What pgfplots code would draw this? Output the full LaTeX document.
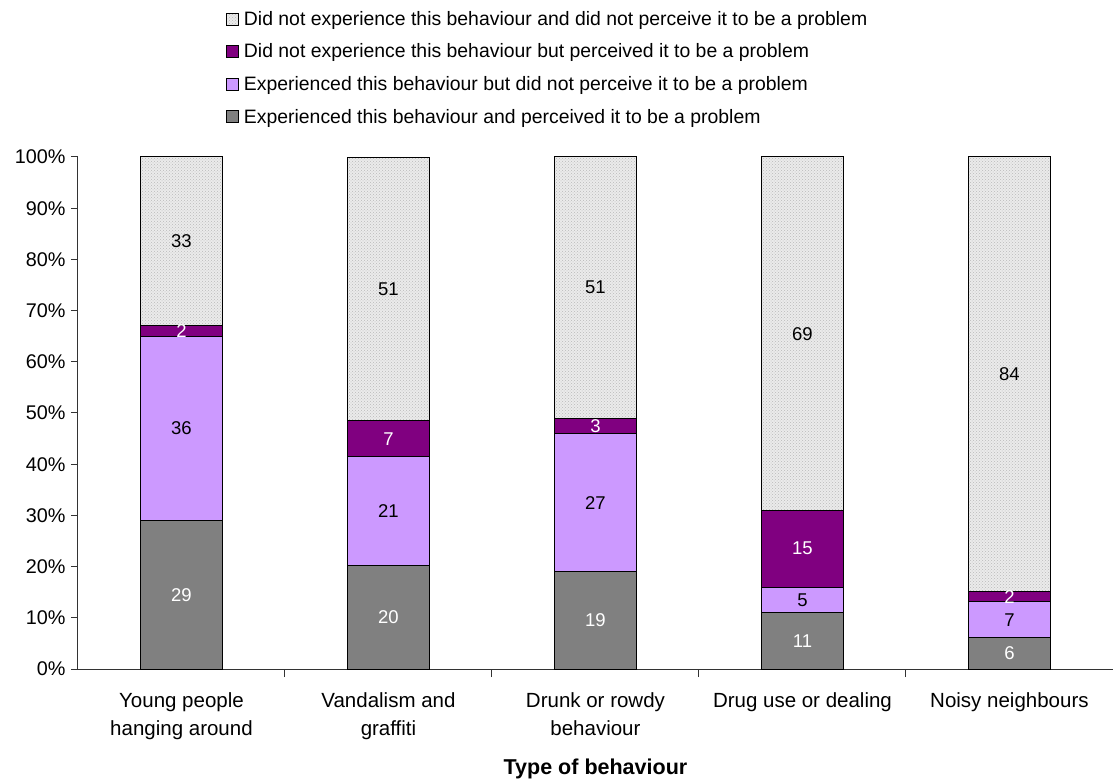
\documentclass[border=0pt]{standalone}
\usepackage{fontspec}
\setmainfont{Liberation Sans}
\usepackage{pgfplots}
\pgfplotsset{compat=1.18}
\usepackage{pgfplotstable}
\usetikzlibrary{patterns}

\definecolor{barGrey}{HTML}{808080}
\definecolor{barLilac}{HTML}{CC99FF}
\definecolor{barPurple}{HTML}{800080}
\definecolor{barLight}{HTML}{EBEBEB}

% a: experienced & problem, b: experienced & no problem,
% c: not experienced & problem, d: not experienced & no problem, t: row total
\pgfplotstableread{
x a  b  c  d  t
0 29 36 2  33 100
1 20 21 7  51 99
2 19 27 3  51 100
3 11 5  15 69 100
4 6  7  2  84 99
}\behaviour

\pgfplotsset{
  common/.style={
    width=1035pt, height=512pt, scale only axis,
    xmin=-0.5, xmax=4.5, ymin=0, ymax=100,
  },
  sq legend/.style={
    legend image code/.code={
      \draw[##1, draw=black, line width=0.8pt] (0pt,-6pt) rectangle (12pt,6pt);
    }
  },
  seg/.style={draw=black, line width=1pt, sq legend},
  lbl/.style={only marks, mark=none, nodes near coords,
    point meta=explicit symbolic,
    nodes near coords style={anchor=center, font=\fontsize{18.5}{20}\selectfont, text=#1}},
}

\begin{document}
\begin{tikzpicture}
\path[use as bounding box] (-78pt,-112pt) rectangle (1035pt,669pt);

\begin{axis}[
  common,
  ybar stacked, bar width=82pt,
  axis x line=bottom, axis y line=left,
  x axis line style={-}, y axis line style={-},
  axis line style={line width=1pt, black!80},
  tick align=outside,
  ytick={0,10,...,100},
  yticklabel={\pgfmathprintnumber{\tick}\%},
  yticklabel style={font=\fontsize{19.8}{22}\selectfont, xshift=-2pt},
  /pgf/number format/assume math mode=true,
  major tick length=7pt,
  xtick={0,...,4},
  xticklabels={{Young people\\hanging around},{Vandalism and\\graffiti},{Drunk or rowdy\\behaviour},{Drug use or dealing},{Noisy neighbours}},
  xticklabel style={align=center, font=\fontsize{20.5}{28}\selectfont, anchor=north, yshift=-13pt},
  major x tick style={draw=none},
  minor xtick={0.5,1.5,2.5,3.5},
  minor tick length=8pt,
  minor x tick style={draw=black!80, line width=1pt},
  major y tick style={draw=black!80, line width=1pt},
  xlabel={\textbf{Type of behaviour}},
  xlabel style={font=\fontsize{21.5}{24}\selectfont, at={(axis description cs:0.5,0)}, anchor=center, yshift=-100pt},
  reverse legend,
  legend cell align=left,
  legend style={draw=none, fill=none, at={(axis description cs:0.1425,1.285)}, anchor=north west,
    font=\fontsize{19.4}{21}\selectfont, row sep=17pt, inner sep=0pt,
    nodes={inner xsep=5.5pt, inner ysep=0pt}},
]
\addplot[seg, fill=barGrey] table[x=x, y expr=\thisrow{a}/\thisrow{t}*100] {\behaviour};
\addplot[seg, fill=barLilac] table[x=x, y expr=\thisrow{b}/\thisrow{t}*100] {\behaviour};
\addplot[seg, fill=barPurple] table[x=x, y expr=\thisrow{c}/\thisrow{t}*100] {\behaviour};
\addplot[seg, fill=barLight, postaction={pattern=crosshatch dots, pattern color=gray!55}] table[x=x, y expr=\thisrow{d}/\thisrow{t}*100] {\behaviour};
\legend{Experienced this behaviour and perceived it to be a problem,
        Experienced this behaviour but did not perceive it to be a problem,
        Did not experience this behaviour but perceived it to be a problem,
        Did not experience this behaviour and did not perceive it to be a problem}
\end{axis}

% value labels, centred in each segment
\begin{axis}[common, hide axis]
\addplot[lbl=white] table[x=x, y expr=0.5*\thisrow{a}/\thisrow{t}*100, meta=a] {\behaviour};
\addplot[lbl=black] table[x=x, y expr=(\thisrow{a}+0.5*\thisrow{b})/\thisrow{t}*100, meta=b] {\behaviour};
\addplot[lbl=white] table[x=x, y expr=(\thisrow{a}+\thisrow{b}+0.5*\thisrow{c})/\thisrow{t}*100, meta=c] {\behaviour};
\addplot[lbl=black] table[x=x, y expr=(\thisrow{a}+\thisrow{b}+\thisrow{c}+0.5*\thisrow{d})/\thisrow{t}*100, meta=d] {\behaviour};
\end{axis}
\end{tikzpicture}
\end{document}
